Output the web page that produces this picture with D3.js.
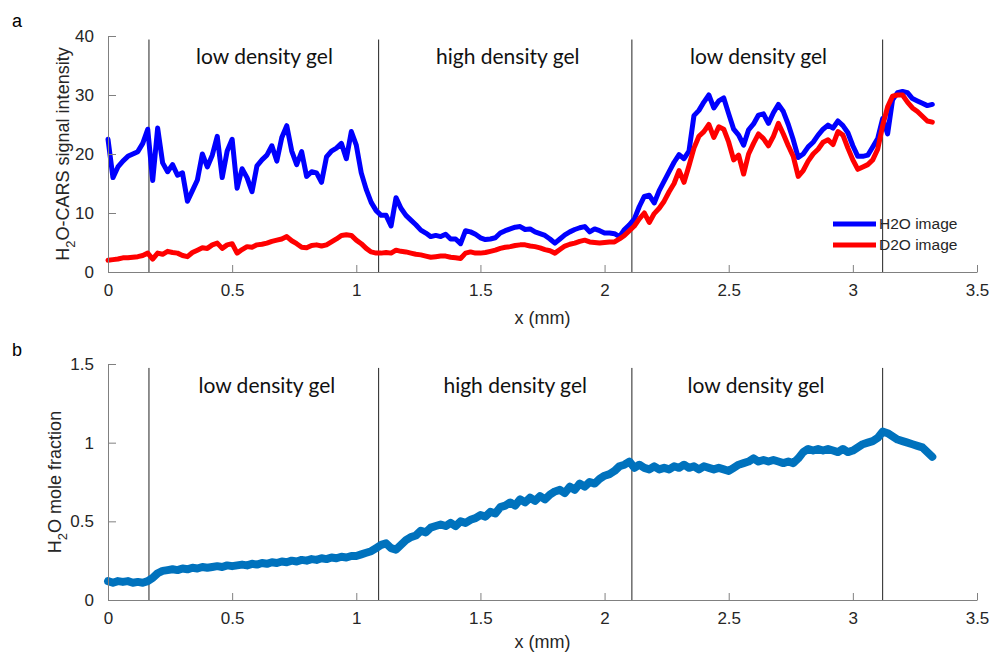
<!DOCTYPE html>
<html>
<head>
<meta charset="utf-8">
<script src="https://cdn.jsdelivr.net/npm/d3@7"></script>
<style>
  body { margin: 0; background: #fff; }
  svg { display: block; }
  .tick text { font-family: "Liberation Sans", Arial, sans-serif; font-size: 17px; fill: #262626; }
</style>
</head>
<body>
<div id="chart"></div>
<script>
// sample spacing along x (mm)
var xStep = 0.02;

// panel a: H2O-CARS signal intensity, sampled every 0.02 mm from 0 to 3.32
var h2oImage = [22.5, 16.0, 17.8, 18.8, 19.6, 20.0, 20.4, 21.8, 24.2, 15.5,
  24.4, 18.5, 17.0, 18.2, 16.4, 16.8, 12.0, 13.8, 15.6, 20.0,
  17.8, 19.8, 23.0, 16.0, 20.5, 22.5, 14.2, 17.5, 16.0, 13.6,
  18.0, 19.0, 19.8, 21.4, 18.8, 22.8, 24.8, 20.5, 18.2, 20.4,
  16.2, 17.0, 16.8, 15.2, 19.5, 20.5, 21.0, 21.8, 19.2, 23.8,
  21.5, 16.8, 14.0, 11.8, 10.4, 9.6, 9.6, 7.8, 12.6, 10.8,
  9.6, 8.8, 8.0, 7.1, 6.6, 6.0, 6.2, 6.0, 6.4, 5.6,
  5.6, 4.8, 7.0, 6.8, 6.4, 5.8, 5.5, 5.6, 5.8, 6.6,
  7.0, 7.3, 7.6, 7.7, 7.2, 7.3, 6.8, 6.5, 6.2, 5.6,
  4.9, 5.6, 6.3, 6.8, 7.2, 7.5, 7.7, 6.8, 7.3, 7.0,
  6.6, 6.6, 6.5, 6.0, 7.2, 8.0, 9.0, 11.1, 12.8, 13.0,
  11.7, 13.8, 15.4, 17.0, 18.6, 19.9, 19.2, 20.5, 26.5, 27.4,
  28.8, 30.0, 27.8, 29.0, 29.5, 26.8, 24.2, 23.2, 21.5, 24.1,
  25.1, 26.6, 26.8, 25.2, 27.0, 28.4, 27.2, 25.0, 22.4, 19.4,
  20.0, 21.2, 22.0, 23.2, 24.2, 24.9, 24.4, 25.6, 24.8, 23.6,
  21.4, 19.6, 19.6, 19.8, 21.2, 22.6, 26.0, 23.4, 29.2, 30.4,
  30.6, 30.4, 29.4, 29.0, 28.6, 28.2, 28.4];

var d2oImage = [2.0, 2.1, 2.2, 2.4, 2.4, 2.5, 2.6, 2.8, 3.2, 2.2,
  3.2, 3.0, 3.5, 3.3, 3.2, 2.8, 2.6, 3.3, 3.7, 4.1,
  4.0, 4.6, 4.9, 4.0, 4.6, 4.8, 3.2, 3.8, 4.3, 4.2,
  4.6, 4.7, 4.9, 5.2, 5.4, 5.6, 6.0, 5.3, 4.8, 4.2,
  4.1, 4.5, 4.6, 4.4, 4.6, 5.1, 5.6, 6.2, 6.3, 6.2,
  5.4, 4.8, 4.0, 3.4, 3.2, 3.2, 3.3, 3.2, 3.7, 3.5,
  3.4, 3.2, 3.0, 2.9, 2.7, 2.5, 2.6, 2.7, 2.7, 2.5,
  2.4, 2.3, 3.2, 3.4, 3.2, 3.2, 3.3, 3.5, 3.7, 4.0,
  4.2, 4.3, 4.5, 4.6, 4.6, 4.4, 4.3, 4.1, 3.8, 3.6,
  3.2, 3.8, 4.4, 4.7, 4.9, 5.2, 5.4, 5.1, 5.0, 4.9,
  5.0, 5.1, 5.1, 5.6, 6.2, 7.0, 7.8, 9.0, 10.0, 8.4,
  9.9, 10.8, 12.0, 13.6, 15.0, 17.2, 15.2, 18.0, 21.0, 23.0,
  23.8, 25.0, 22.8, 24.6, 24.2, 22.0, 19.0, 19.8, 16.6, 20.0,
  21.8, 23.4, 22.6, 21.4, 23.0, 25.2, 23.4, 21.4, 19.6, 16.2,
  17.2, 18.8, 20.0, 20.8, 22.0, 22.4, 21.6, 23.8, 23.2, 21.0,
  19.0, 17.4, 17.8, 18.2, 19.0, 20.8, 24.8, 28.0, 29.8, 30.0,
  30.0, 28.8, 27.8, 27.2, 26.4, 25.6, 25.4];

// panel b: H2O mole fraction, same sampling
var moleFraction = [0.12, 0.11, 0.12, 0.115, 0.12, 0.11, 0.115, 0.11, 0.12, 0.14,
  0.17, 0.185, 0.19, 0.195, 0.19, 0.20, 0.195, 0.205, 0.20, 0.21,
  0.205, 0.21, 0.215, 0.21, 0.22, 0.215, 0.22, 0.225, 0.22, 0.23,
  0.225, 0.235, 0.23, 0.24, 0.235, 0.245, 0.24, 0.25, 0.245, 0.255,
  0.25, 0.26, 0.255, 0.265, 0.26, 0.27, 0.265, 0.275, 0.27, 0.28,
  0.28, 0.29, 0.30, 0.31, 0.33, 0.35, 0.36, 0.33, 0.32, 0.35,
  0.38, 0.40, 0.41, 0.44, 0.43, 0.46, 0.47, 0.48, 0.47, 0.49,
  0.47, 0.50, 0.49, 0.51, 0.52, 0.54, 0.53, 0.56, 0.55, 0.59,
  0.60, 0.62, 0.60, 0.64, 0.62, 0.65, 0.63, 0.66, 0.64, 0.67,
  0.69, 0.70, 0.68, 0.72, 0.70, 0.74, 0.72, 0.75, 0.74, 0.77,
  0.79, 0.80, 0.82, 0.85, 0.86, 0.88, 0.84, 0.86, 0.84, 0.83,
  0.85, 0.83, 0.84, 0.83, 0.85, 0.84, 0.86, 0.84, 0.85, 0.83,
  0.85, 0.84, 0.83, 0.84, 0.83, 0.82, 0.84, 0.86, 0.87, 0.88,
  0.90, 0.88, 0.89, 0.88, 0.89, 0.88, 0.87, 0.88, 0.87, 0.90,
  0.94, 0.96, 0.95, 0.96, 0.95, 0.96, 0.95, 0.94, 0.96, 0.94,
  0.95, 0.97, 0.99, 1.00, 1.01, 1.03, 1.07, 1.06, 1.04, 1.02,
  1.01, 1.00, 0.99, 0.98, 0.97, 0.94, 0.91];

// gel region boundaries (mm) and their labels
var boundaries = [0.165, 1.09, 2.11, 3.12];
var regionLabels = ["low density gel", "high density gel", "low density gel"];
var regionCentersA = [0.63, 1.61, 2.62];
var regionCentersB = [0.64, 1.64, 2.61];

var xTicks = [0, 0.5, 1, 1.5, 2, 2.5, 3, 3.5];
var yTicksA = [0, 10, 20, 30, 40];
var yTicksB = [0, 0.5, 1, 1.5];

var legendNames = ["H2O image", "D2O image"];
var legendColors = ["#0000ff", "#ff0000"];

var width = 990, height = 653;
var svg = d3.select("#chart").append("svg")
    .attr("width", width)
    .attr("height", height);

var x = d3.scaleLinear().domain([0, 3.5]).range([108, 977]);
var yA = d3.scaleLinear().domain([0, 40]).range([272, 36]);
var yB = d3.scaleLinear().domain([0, 1.5]).range([600, 364]);

function fmt(d) { return String(d); }

function drawAxes(y, yTicks) {
    var gx = svg.append("g")
        .attr("transform", "translate(0," + y(0) + ")")
        .call(d3.axisBottom(x).tickValues(xTicks).tickFormat(fmt).tickSizeInner(-7).tickSizeOuter(0).tickPadding(12));
    gx.select(".domain").attr("stroke", "#808080");
    gx.selectAll(".tick line").attr("stroke", "#808080");

    var gy = svg.append("g")
        .attr("transform", "translate(" + x(0) + ",0)")
        .call(d3.axisLeft(y).tickValues(yTicks).tickFormat(fmt).tickSizeInner(-8).tickSizeOuter(0).tickPadding(14));
    gy.select(".domain").attr("stroke", "#808080");
    gy.selectAll(".tick line").attr("stroke", "#808080");
}

function drawBoundaries(y, yTop, centers, labelY) {
    svg.append("g").selectAll("line")
        .data(boundaries)
        .enter().append("line")
        .attr("x1", function (d) { return x(d); })
        .attr("x2", function (d) { return x(d); })
        .attr("y1", y(yTop))
        .attr("y2", y(0))
        .attr("stroke", "#222")
        .attr("stroke-width", 1);

    svg.append("g").selectAll("text")
        .data(regionLabels)
        .enter().append("text")
        .attr("x", function (d, i) { return x(centers[i]); })
        .attr("y", labelY)
        .attr("text-anchor", "middle")
        .style("font-family", "Lato, 'Open Sans', sans-serif")
        .style("font-size", "21px")
        .style("fill", "#111")
        .text(function (d) { return d; });
}

function drawSeries(values, y, color, w) {
    var line = d3.line()
        .x(function (d, i) { return x(i * xStep); })
        .y(function (d) { return y(d); });
    svg.append("path")
        .datum(values)
        .attr("d", line)
        .attr("fill", "none")
        .attr("stroke", color)
        .attr("stroke-width", w)
        .attr("stroke-linejoin", "round")
        .attr("stroke-linecap", "round");
}

function yLabel(xPos, cy, rest) {
    var t = svg.append("text")
        .attr("transform", "translate(" + xPos + "," + cy + ") rotate(-90)")
        .attr("text-anchor", "middle")
        .style("font-family", "'Liberation Sans', Arial, sans-serif")
        .style("font-size", "18px")
        .style("fill", "#262626");
    t.append("tspan").text("H");
    t.append("tspan").attr("dy", 6).style("font-size", "13px").text("2");
    t.append("tspan").attr("dy", -6).text(rest);
}

function xLabel(yPos) {
    svg.append("text")
        .attr("x", x(1.75))
        .attr("y", yPos)
        .attr("text-anchor", "middle")
        .style("font-family", "'Liberation Sans', Arial, sans-serif")
        .style("font-size", "18px")
        .style("fill", "#262626")
        .text("x (mm)");
}

function panelLetter(letter, yPos) {
    svg.append("text")
        .attr("x", 12)
        .attr("y", yPos)
        .style("font-family", "'Liberation Sans', Arial, sans-serif")
        .style("font-size", "18px")
        .style("fill", "#000")
        .text(letter);
}

/******** panel a ********/
drawBoundaries(yA, 39.4, regionCentersA, 64);
drawSeries(h2oImage, yA, legendColors[0], 5);
drawSeries(d2oImage, yA, legendColors[1], 5);
drawAxes(yA, yTicksA);
yLabel(69, 154, "O-CARS signal intensity");
xLabel(324);
panelLetter("a", 27);

// legend, no box
var legend = svg.append("g").selectAll("g")
    .data(legendNames)
    .enter().append("g")
    .attr("transform", function (d, i) { return "translate(833," + (224 + i * 21) + ")"; });
legend.append("line")
    .attr("x1", 0).attr("x2", 43)
    .attr("stroke", function (d, i) { return legendColors[i]; })
    .attr("stroke-width", 5);
legend.append("text")
    .attr("x", 46)
    .attr("y", 5)
    .style("font-family", "'Liberation Sans', Arial, sans-serif")
    .style("font-size", "15.5px")
    .style("fill", "#262626")
    .text(function (d) { return d; });

/******** panel b ********/
drawBoundaries(yB, 1.475, regionCentersB, 393);
drawSeries(moleFraction, yB, "#0072bd", 8);
drawAxes(yB, yTicksB);
yLabel(61, 482, "O mole fraction");
xLabel(648);
panelLetter("b", 356);
</script>
</body>
</html>
